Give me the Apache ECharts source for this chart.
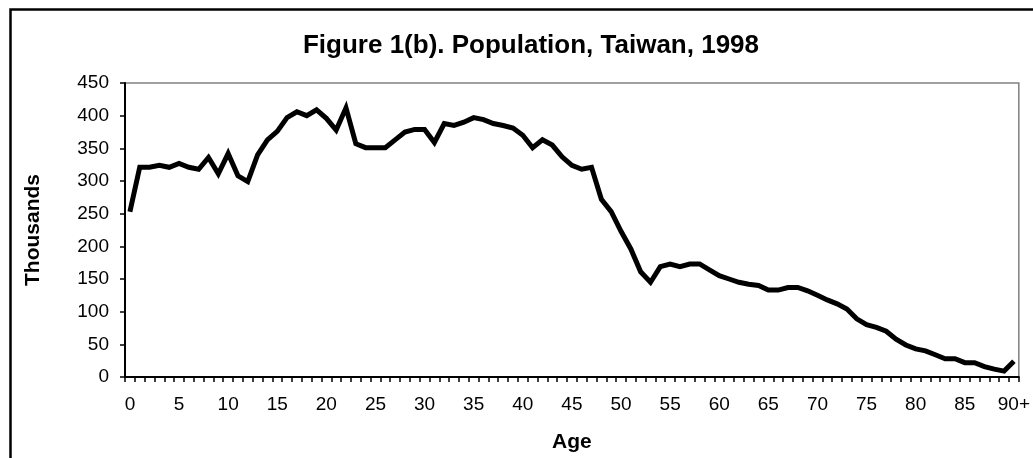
<!DOCTYPE html>
<html>
<head>
<meta charset="utf-8">
<script src="https://cdn.jsdelivr.net/npm/echarts@6/dist/echarts.min.js"></script>
<style>
html,body{margin:0;padding:0;background:#fff;}
#chart{width:1033px;height:458px;}
</style>
</head>
<body>
<div id="chart"></div>
<script>
const titleText = 'Figure 1(b). Population, Taiwan, 1998';
const yAxisName = 'Thousands';
const xAxisName = 'Age';
const ages = [];
for (let i = 0; i < 90; i++) ages.push(String(i));
ages.push('90+');
const population = [
  253, 321, 321, 324, 321, 327, 321, 318, 336, 311,
  342, 308, 299, 340, 363, 376, 397, 406, 400, 409,
  396, 378, 412, 357, 351, 351, 351, 363, 375, 379,
  379, 359, 388, 385, 390, 397, 394, 388, 385, 381,
  370, 351, 363, 355, 337, 324, 318, 321, 272, 253,
  223, 196, 161, 145, 169, 173, 169, 173, 173, 164,
  155, 150, 145, 142, 140, 133, 133, 137, 137, 132,
  125, 118, 112, 104, 89, 80, 76, 70, 58, 49,
  43, 40, 34, 28, 28, 22, 22, 16, 12, 9,
  24
];
const yMin = 0, yMax = 450, yStep = 50;

const chart = echarts.init(document.getElementById('chart'), null, {renderer: 'canvas'});
const font = 'Liberation Sans, Arial, sans-serif';
chart.setOption({
  animation: false,
  backgroundColor: '#ffffff',
  title: {
    text: titleText,
    left: 526, top: 28, textAlign: 'center',
    textStyle: {fontFamily: font, fontSize: 26, fontWeight: 'bold', color: '#000'}
  },
  graphic: [{
    type: 'rect', z: 100,
    shape: {x: 10.5, y: 9.5, width: 1200, height: 800},
    style: {fill: 'none', stroke: '#000', lineWidth: 2.5}
  }],
  grid: {
    left: 125, top: 83, right: 11, bottom: 77,
    show: true, borderColor: '#808080', borderWidth: 1.5, backgroundColor: 'transparent'
  },
  xAxis: {
    type: 'category', data: ages, boundaryGap: true,
    name: xAxisName, nameLocation: 'middle', nameGap: 55,
    nameTextStyle: {fontFamily: font, fontSize: 21, fontWeight: 'bold', color: '#000'},
    axisLine: {lineStyle: {color: '#000', width: 2}},
    axisTick: {show: true, interval: 0, length: 5, lineStyle: {color: '#000', width: 1.5}},
    axisLabel: {interval: 4, fontFamily: font, fontSize: 19, color: '#000', margin: 18},
    splitLine: {show: false}
  },
  yAxis: {
    type: 'value', min: yMin, max: yMax, interval: yStep,
    name: yAxisName, nameLocation: 'middle', nameGap: 81, nameRotate: 90,
    nameTextStyle: {fontFamily: font, fontSize: 21, fontWeight: 'bold', color: '#000'},
    axisLine: {show: true, lineStyle: {color: '#000', width: 2}},
    axisTick: {show: true, length: 5, lineStyle: {color: '#000', width: 1.5}},
    axisLabel: {fontFamily: font, fontSize: 19, color: '#000', margin: 16},
    splitLine: {show: false}
  },
  series: [{
    type: 'line', data: population, symbol: 'none',
    lineStyle: {color: '#000', width: 5, join: 'miter'},
    z: 5
  }]
});
</script>
</body>
</html>
